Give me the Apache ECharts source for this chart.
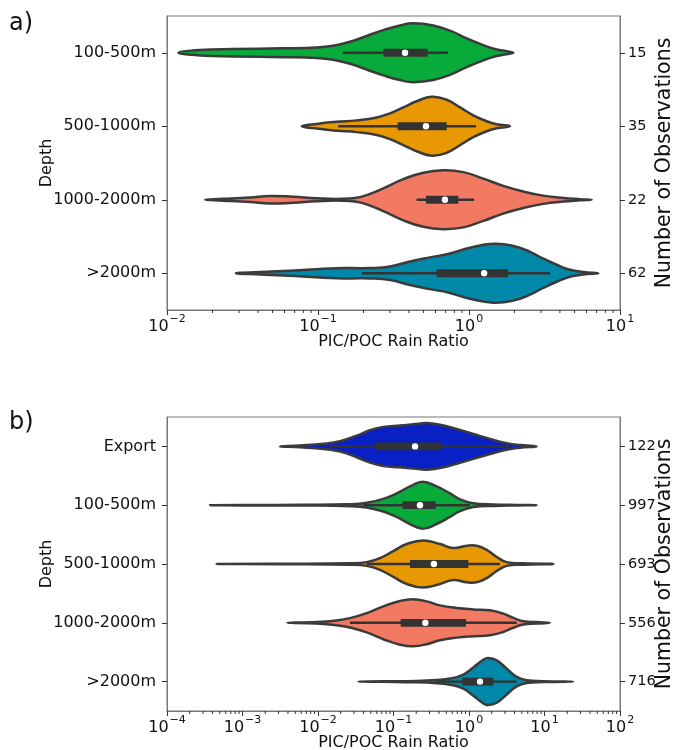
<!DOCTYPE html>
<html><head><meta charset="utf-8">
<script src="https://cdn.jsdelivr.net/npm/echarts@6/dist/echarts.min.js"></script>
<style>html,body{margin:0;padding:0;background:#fff}#c{width:673px;height:750px}</style>
</head><body><div id="c"></div>
<script>
// ---------- categories & counts ----------
const catsA = ['100-500m', '500-1000m', '1000-2000m', '>2000m'];
const obsA = ['15', '35', '22', '62'];
const catsB = ['Export', '100-500m', '500-1000m', '1000-2000m', '>2000m'];
const obsB = ['122', '997', '693', '556', '716'];
const colorsA = ['#08aa3a', '#e89800', '#f27a62', '#0088a8'];
const colorsB = ['#0820c4', '#08aa3a', '#e89800', '#f27a62', '#0088a8'];

// ---------- violin outlines (x = PIC/POC ratio, w = relative half width) ----------
const a1x = [0.0119,0.01655,0.0275,0.0589,0.098,0.126,0.163,0.210,0.2707,0.349,0.428,0.580,0.748,0.966,1.244,1.525,1.777,1.965];
const a1w = [0,0.09,0.125,0.15,0.18,0.24,0.375,0.57,0.77,0.93,1.0,0.93,0.75,0.49,0.26,0.11,0.05,0];
const a2x = [0.078,0.098,0.133,0.1805,0.245,0.300,0.367,0.450,0.566,0.712,0.872,1.068,1.31,1.525,1.868];
const a2w = [0,0.08,0.15,0.2,0.3,0.44,0.64,0.85,1.0,0.9,0.64,0.37,0.17,0.07,0];
const a3x = [0.0179,0.0236,0.0355,0.0481,0.0686,0.098,0.140,0.1805,0.221,0.2707,0.367,0.498,0.676,0.917,1.244,1.687,2.29,3.10,4.21,5.43,6.49];
const a3w = [0,0.03,0.08,0.13,0.1,0.05,0.03,0.07,0.2,0.39,0.7,0.92,1.0,0.94,0.72,0.47,0.28,0.14,0.06,0.02,0];
const a4x = [0.0286,0.0413,0.0589,0.0841,0.120,0.163,0.221,0.300,0.407,0.552,0.748,1.015,1.449,1.965,2.535,3.10,3.81,4.66,5.71,7.18];
const a4w = [0,0.044,0.077,0.12,0.165,0.176,0.176,0.23,0.4,0.54,0.67,0.87,1.0,0.93,0.73,0.5,0.29,0.12,0.044,0];

const b1x = [0.00314,0.00578,0.01175,0.01956,0.0326,0.0489,0.0733,0.122,0.183,0.275,0.413,0.687,1.14,1.90,3.16,4.74,7.88];
const b1w = [0,0.04,0.11,0.22,0.46,0.69,0.83,0.89,0.94,0.99,0.92,0.74,0.53,0.32,0.14,0.06,0];
const b2x = [0.000371,0.001256,0.00578,0.02654,0.0442,0.0733,0.110,0.1654,0.2437,0.373,0.560,0.760,1.14,2.10,4.28,7.88];
const b2w = [0,0.01,0.015,0.04,0.1,0.27,0.5,0.8,1.0,0.8,0.5,0.25,0.08,0.03,0.01,0];
const b3x = [0.000455,0.00347,0.02654,0.0442,0.0662,0.0993,0.1496,0.248,0.413,0.619,0.933,1.26,1.715,2.33,3.16,5.24,13.1];
const b3w = [0,0.01,0.03,0.08,0.25,0.55,0.85,1.0,0.85,0.68,0.78,0.78,0.6,0.3,0.08,0.03,0];
const b4x = [0.00393,0.0096,0.0177,0.02654,0.0442,0.0733,0.122,0.183,0.275,0.413,0.687,1.14,1.90,2.85,3.86,5.24,7.88,11.8];
const b4w = [0,0.03,0.1,0.2,0.41,0.7,0.93,1.0,0.91,0.74,0.63,0.57,0.53,0.39,0.21,0.07,0.03,0];
const b5x = [0.0342,0.0733,0.203,0.373,0.560,0.841,1.14,1.55,1.80,2.33,3.16,4.28,5.81,9.64,24.0];
const b5w = [0,0.01,0.03,0.07,0.13,0.3,0.6,0.93,1.0,0.9,0.55,0.2,0.06,0.02,0];

// ---------- inner box statistics ----------
const aLo  = [0.146, 0.136, 0.450, 0.1956];
const aQ1  = [0.2707, 0.337, 0.519, 0.611];
const aMed = [0.377, 0.519, 0.693, 1.26];
const aQ3  = [0.533, 0.712, 0.849, 1.82];
const aHi  = [0.723, 1.113, 1.08, 3.44];
const bLo  = [0.0144, 0.0398, 0.0442, 0.0265, 0.373];
const bQ1  = [0.0586, 0.131, 0.1654, 0.1245, 0.815];
const bMed = [0.193, 0.224, 0.343, 0.264, 1.40];
const bQ3  = [0.426, 0.362, 0.98, 0.912, 2.10];
const bHi  = [3.49, 1.03, 2.57, 4.28, 4.28];

// ---------- minor tick values ----------
const minorA = [0.02,0.03,0.04,0.05,0.06,0.07,0.08,0.09,0.2,0.3,0.4,0.5,0.6,0.7,0.8,0.9,2,3,4,5,6,7,8,9];
const minorB = [0.0002,0.0003,0.0004,0.0005,0.0006,0.0007,0.0008,0.0009,
  0.002,0.003,0.004,0.005,0.006,0.007,0.008,0.009,
  0.02,0.03,0.04,0.05,0.06,0.07,0.08,0.09,
  0.2,0.3,0.4,0.5,0.6,0.7,0.8,0.9,
  2,3,4,5,6,7,8,9,20,30,40,50,60,70,80,90];

const FONT = 'DejaVu Sans';
const TXT = '#111';
const OUTLINE = '#3b3b3b';

const violinsA = [[a1x, a1w], [a2x, a2w], [a3x, a3w], [a4x, a4w]];
const violinsB = [[b1x, b1w], [b2x, b2w], [b3x, b3w], [b4x, b4w], [b5x, b5w]];

function violinRender(list, colors) {
  return function (params, api) {
    const i = api.value(1);
    const xs = list[i][0], ws = list[i][1];
    const band = Math.abs(api.coord([1, 1])[1] - api.coord([1, 0])[1]);
    const half = band * 0.4;
    const up = [], lo = [];
    for (let k = 0; k < xs.length; k++) {
      const p = api.coord([xs[k], i]);
      up.push([p[0], p[1] - ws[k] * half]);
      lo.push([p[0], p[1] + ws[k] * half]);
    }
    const pts = up.slice();
    for (let k = xs.length - 2; k >= 1; k--) pts.push(lo[k]);
    return {
      type: 'polygon',
      shape: { points: pts, smooth: 0.45 },
      style: { fill: colors[i], stroke: OUTLINE, lineWidth: 2.5, lineJoin: 'round' }
    };
  };
}

function boxRender(params, api) {
  const i = api.value(5);
  const pLo = api.coord([api.value(0), i]);
  const pQ1 = api.coord([api.value(1), i]);
  const pMd = api.coord([api.value(2), i]);
  const pQ3 = api.coord([api.value(3), i]);
  const pHi = api.coord([api.value(4), i]);
  return {
    type: 'group',
    children: [
      { type: 'line', shape: { x1: pLo[0], y1: pLo[1], x2: pHi[0], y2: pHi[1] },
        style: { stroke: '#333', lineWidth: 2.4 } },
      { type: 'rect', shape: { x: pQ1[0], y: pQ1[1] - 3.9, width: pQ3[0] - pQ1[0], height: 7.8 },
        style: { fill: '#333' } },
      { type: 'circle', shape: { cx: pMd[0], cy: pMd[1], r: 3.2 }, style: { fill: '#fff' } }
    ]
  };
}

function minorRender(params, api) {
  const p = api.coord([api.value(0), 0]);
  const cs = params.coordSys;
  const y0 = cs.y + cs.height;
  return { type: 'line', shape: { x1: p[0], y1: y0, x2: p[0], y2: y0 + 3 },
    style: { stroke: '#333', lineWidth: 1 } };
}

function logLabel(v) {
  const e = Math.round(Math.log10(v));
  const s = e < 0 ? '\u2212' + (-e) : String(e);
  return '{b|10}{s|' + s + '}';
}

function xAxisCfg(gi, min, max) {
  return {
    gridIndex: gi, type: 'log', logBase: 10, min: min, max: max, interval: 1,
    axisLine: { show: true, lineStyle: { color: '#777', width: 1 } },
    axisTick: { show: true, length: 5, lineStyle: { color: '#333', width: 1 } },
    splitLine: { show: false },
    axisLabel: {
      margin: 4, formatter: logLabel,
      rich: {
        b: { fontSize: 16, fontFamily: FONT, color: TXT, verticalAlign: 'bottom', lineHeight: 21 },
        s: { fontSize: 11, fontFamily: FONT, color: TXT, verticalAlign: 'top', lineHeight: 21, padding: [0, 0, 0, 1] }
      }
    },
    name: 'PIC/POC Rain Ratio', nameLocation: 'middle', nameGap: 24, nameMoveOverlap: false,
    nameTextStyle: { fontSize: 16, fontFamily: FONT, color: TXT }
  };
}

function yLeftCfg(gi, cats) {
  return {
    gridIndex: gi, type: 'category', data: cats, inverse: true, position: 'left',
    axisLine: { show: true, lineStyle: { color: '#777', width: 1 } },
    axisTick: { show: true, length: 5, alignWithLabel: true, lineStyle: { color: '#333', width: 1 } },
    axisLabel: { margin: 11, fontSize: 16, fontFamily: FONT, color: TXT },
    splitLine: { show: false },
    name: 'Depth', nameLocation: 'middle', nameGap: 112, nameRotate: 90, nameMoveOverlap: false,
    nameTextStyle: { fontSize: 16, fontFamily: FONT, color: TXT }
  };
}

function yRightCfg(gi, obs) {
  return {
    gridIndex: gi, type: 'category', data: obs, inverse: true, position: 'right',
    axisLine: { show: true, lineStyle: { color: '#777', width: 1 } },
    axisTick: { show: true, length: 5, alignWithLabel: true, lineStyle: { color: '#333', width: 1 } },
    axisLabel: { margin: 8, fontSize: 14.5, fontFamily: FONT, color: TXT },
    splitLine: { show: false },
    name: 'Number of Observations', nameLocation: 'middle', nameGap: 34, nameRotate: 90, nameMoveOverlap: false,
    nameTextStyle: { fontSize: 20.5, fontFamily: FONT, color: TXT }
  };
}

const chart = echarts.init(document.getElementById('c'), null, { renderer: 'canvas' });
chart.setOption({
  animation: false,
  backgroundColor: '#fff',
  textStyle: { fontFamily: FONT },
  grid: [
    { left: 167, top: 16, width: 453, height: 294, show: true, borderColor: '#777', borderWidth: 1,
      backgroundColor: 'transparent', containLabel: false, outerBoundsMode: 'none' },
    { left: 167, top: 417, width: 453, height: 294, show: true, borderColor: '#777', borderWidth: 1,
      backgroundColor: 'transparent', containLabel: false, outerBoundsMode: 'none' }
  ],
  xAxis: [xAxisCfg(0, 0.01, 10), xAxisCfg(1, 0.0001, 100)],
  yAxis: [yLeftCfg(0, catsA), yRightCfg(0, obsA), yLeftCfg(1, catsB), yRightCfg(1, obsB)],
  graphic: [
    { type: 'text', left: 9, top: 12, style: { text: 'a)', fontSize: 24, fontFamily: FONT, fill: TXT } },
    { type: 'text', left: 9, top: 411, style: { text: 'b)', fontSize: 24, fontFamily: FONT, fill: TXT } }
  ],
  series: [
    { type: 'custom', xAxisIndex: 0, yAxisIndex: 0, renderItem: violinRender(violinsA, colorsA),
      encode: { x: 0, y: 1 }, data: catsA.map((c, i) => [1, i]), clip: false, z: 2 },
    { type: 'custom', xAxisIndex: 0, yAxisIndex: 0, renderItem: boxRender,
      encode: { x: [0, 4], y: 5 }, data: catsA.map((c, i) => [aLo[i], aQ1[i], aMed[i], aQ3[i], aHi[i], i]), clip: false, z: 3 },
    { type: 'custom', xAxisIndex: 0, yAxisIndex: 0, renderItem: minorRender,
      encode: { x: 0 }, data: minorA.map(v => [v]), clip: false, z: 1 },
    { type: 'custom', xAxisIndex: 1, yAxisIndex: 2, renderItem: violinRender(violinsB, colorsB),
      encode: { x: 0, y: 1 }, data: catsB.map((c, i) => [1, i]), clip: false, z: 2 },
    { type: 'custom', xAxisIndex: 1, yAxisIndex: 2, renderItem: boxRender,
      encode: { x: [0, 4], y: 5 }, data: catsB.map((c, i) => [bLo[i], bQ1[i], bMed[i], bQ3[i], bHi[i], i]), clip: false, z: 3 },
    { type: 'custom', xAxisIndex: 1, yAxisIndex: 2, renderItem: minorRender,
      encode: { x: 0 }, data: minorB.map(v => [v]), clip: false, z: 1 }
  ]
});
</script>
</body></html>
